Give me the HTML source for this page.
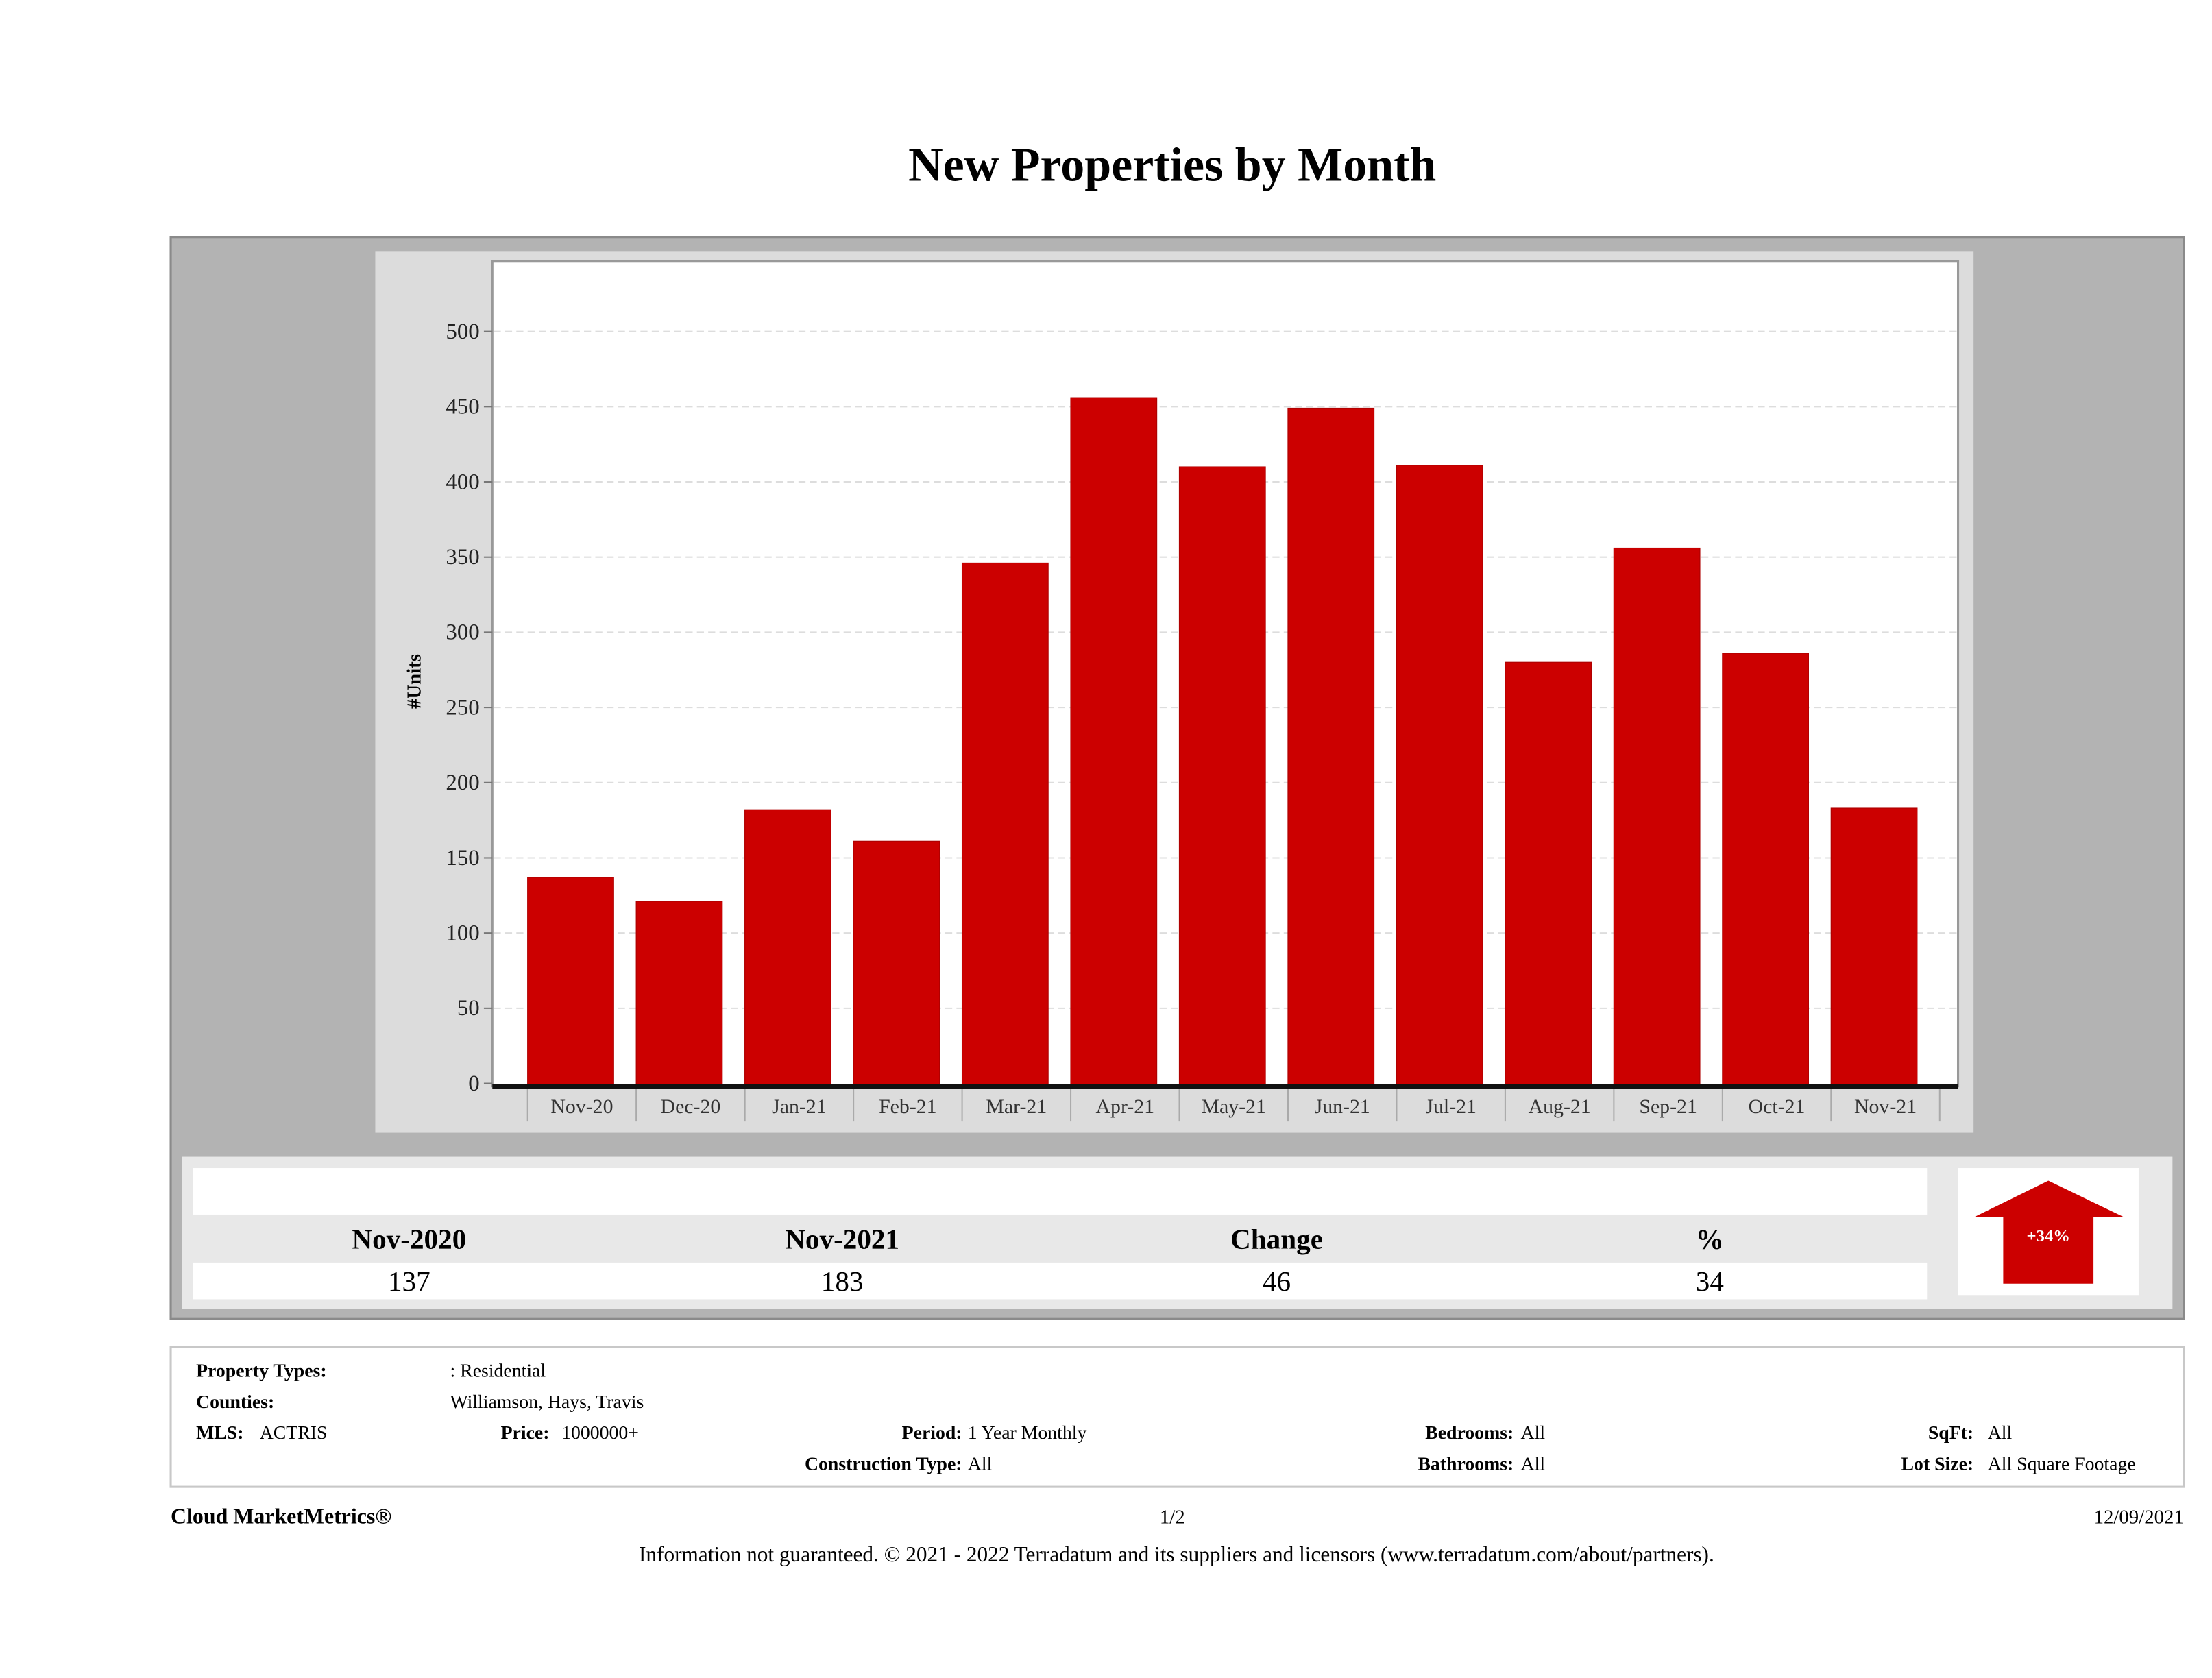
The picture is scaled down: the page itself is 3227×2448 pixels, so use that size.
<!DOCTYPE html>
<html><head><meta charset="utf-8"><style>
html,body{margin:0;padding:0;background:#fff}
svg{display:block}
text{font-family:"Liberation Serif",serif}
</style></head><body>
<svg id="page" width="3227" height="2448" viewBox="0 0 1568 1189.5">
<text x="831" y="128" text-anchor="middle" font-size="34" font-weight="bold">New Properties by Month</text>
<rect x="121" y="168" width="1427" height="767" fill="#b3b3b3" stroke="#8a8a8a" stroke-width="1.5"/>
<rect x="266" y="178" width="1133" height="625" fill="#dcdcdc"/>
<rect x="349" y="185" width="1039" height="585" fill="#fff" stroke="#999" stroke-width="1.5"/>
<g id="grid"></g><g id="bars"></g><g id="xlabels"></g><g id="ylabels"></g>
<line x1="349" y1="770" x2="1388" y2="770" stroke="#111" stroke-width="3.5"/>
<text transform="translate(298,483) rotate(-90)" text-anchor="middle" font-size="14" font-weight="bold">#Units</text>

<rect x="129" y="820" width="1411" height="108" fill="#e8e8e8"/>
<rect x="137" y="828" width="1229" height="33" fill="#fff"/>
<rect x="137" y="895" width="1229" height="26" fill="#fff"/>
<g font-size="20" text-anchor="middle">
<text x="290" y="885" font-weight="bold">Nov-2020</text>
<text x="597" y="885" font-weight="bold">Nov-2021</text>
<text x="905" y="885" font-weight="bold">Change</text>
<text x="1212" y="885" font-weight="bold">%</text>
<text x="290" y="915">137</text>
<text x="597" y="915">183</text>
<text x="905" y="915">46</text>
<text x="1212" y="915">34</text>
</g>
<rect x="1388" y="828" width="128" height="90" fill="#fff"/>
<polygon points="1452,837 1506,863 1484,863 1484,910 1420,910 1420,863 1399,863" fill="#cc0000"/>
<text x="1452" y="880" text-anchor="middle" font-size="12" font-weight="bold" fill="#fff">+34%</text>

<rect x="121" y="955" width="1427" height="99" fill="#fff" stroke="#c8c8c8" stroke-width="1.5"/>
<g font-size="13.5">
<text x="139" y="976" font-weight="bold">Property Types:</text>
<text x="319" y="976">: Residential</text>
<text x="139" y="998" font-weight="bold">Counties:</text>
<text x="319" y="998">Williamson, Hays, Travis</text>
<text x="139" y="1020" font-weight="bold">MLS:</text>
<text x="184" y="1020">ACTRIS</text>
<text x="355" y="1020" font-weight="bold">Price:</text>
<text x="398" y="1020">1000000+</text>
<text x="682" y="1020" text-anchor="end" font-weight="bold">Period:</text>
<text x="686" y="1020">1 Year Monthly</text>
<text x="682" y="1042" text-anchor="end" font-weight="bold">Construction Type:</text>
<text x="686" y="1042">All</text>
<text x="1073" y="1020" text-anchor="end" font-weight="bold">Bedrooms:</text>
<text x="1078" y="1020">All</text>
<text x="1073" y="1042" text-anchor="end" font-weight="bold">Bathrooms:</text>
<text x="1078" y="1042">All</text>
<text x="1399" y="1020" text-anchor="end" font-weight="bold">SqFt:</text>
<text x="1409" y="1020">All</text>
<text x="1399" y="1042" text-anchor="end" font-weight="bold">Lot Size:</text>
<text x="1409" y="1042">All Square Footage</text>
</g>
<text x="121" y="1080" font-size="15.5" font-weight="bold">Cloud MarketMetrics®</text>
<text x="831" y="1080" font-size="14" text-anchor="middle">1/2</text>
<text x="1548" y="1080" font-size="14" text-anchor="end">12/09/2021</text>
<text x="834" y="1107" font-size="15.2" text-anchor="middle">Information not guaranteed. © 2021 - 2022 Terradatum and its suppliers and licensors (www.terradatum.com/about/partners).</text>
</svg>
<script>
const categories = ["Nov-20","Dec-20","Jan-21","Feb-21","Mar-21","Apr-21","May-21","Jun-21","Jul-21","Aug-21","Sep-21","Oct-21","Nov-21"];
const values = [137,121,182,161,346,456,410,449,411,280,356,286,183];
const yTicks = [0,50,100,150,200,250,300,350,400,450,500];

const NS = "http://www.w3.org/2000/svg";
const y0 = 768, pxPerUnit = 533/500;
const firstCenter = 404.5, step = 77, barW = 61;
function yScale(v){ return y0 - v*pxPerUnit; }
function xScale(i){ return firstCenter + i*step; }
function mk(tag, attrs){ const e=document.createElementNS(NS,tag); for(const k in attrs) e.setAttribute(k,attrs[k]); return e; }

const grid=document.getElementById('grid'), ylab=document.getElementById('ylabels');
yTicks.forEach(t=>{
  const y=yScale(t);
  if(t>0){
    const g=mk('line',{x1:350,x2:1387,y1:y,y2:y,stroke:'#ddd','stroke-dasharray':'5,3'});
    
    
    grid.appendChild(g);
  }
  const tk=mk('line',{x1:343,x2:349,y1:y,y2:y,stroke:'#777'});
  
  
  ylab.appendChild(tk);
  const tx=mk('text',{x:340,y:y+5,'text-anchor':'end','font-size':16,fill:'#222'});
  tx.textContent=t;
  
  
  ylab.appendChild(tx);
});
const bars=document.getElementById('bars'), xl=document.getElementById('xlabels');
categories.forEach((c,i)=>{
  const cx=xScale(i), top=yScale(values[i]);
  const r=mk('rect',{x:cx-barW/2,y:top,width:barW,height:y0-top+1,fill:'#cc0000',stroke:'#b00000','stroke-width':0.6});
  
  
  bars.appendChild(r);
  const t=mk('text',{x:cx+8,y:789,'text-anchor':'middle','font-size':14.5,fill:'#333'});
  t.textContent=c;
  
  
  xl.appendChild(t);
  const sep=mk('line',{x1:cx-step/2+8,x2:cx-step/2+8,y1:772,y2:795,stroke:'#aaa'});
  
  
  xl.appendChild(sep);
  if(i===categories.length-1){
    const s2=mk('line',{x1:cx+step/2+8,x2:cx+step/2+8,y1:772,y2:795,stroke:'#aaa'});
    
    
    xl.appendChild(s2);
  }
});
</script>
</body></html>
